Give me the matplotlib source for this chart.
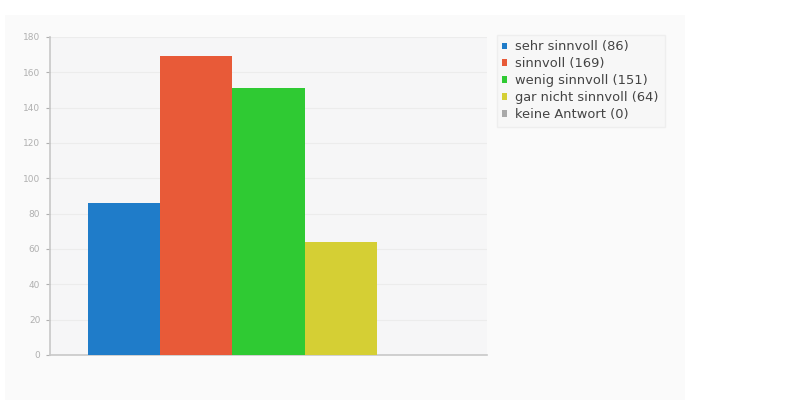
import matplotlib.pyplot as plt
from matplotlib.patches import Rectangle

categories = ['sehr sinnvoll', 'sinnvoll', 'wenig sinnvoll', 'gar nicht sinnvoll', 'keine Antwort']
counts = [86, 169, 151, 64, 0]
colors = ['#1f7cc9', '#e85a38', '#2fca33', '#d5cf34', '#a9a9a9']
y_ticks = list(range(0, 181, 20))

fig = plt.figure(figsize=(8.10, 4.05), dpi=100)
fig.patch.set_facecolor('white')

# light panel behind chart and legend
fig.patches.append(Rectangle((5 / 810, 5 / 405), 680 / 810, 385 / 405,
                             transform=fig.transFigure, facecolor='#fafafa',
                             edgecolor='none', zorder=-10))

ax = fig.add_axes([50 / 810, 50 / 405, 437 / 810, 318 / 405])
ax.set_facecolor('#f6f6f7')

x = list(range(len(counts)))
bars = ax.bar(x, counts, width=1.0, color=colors, linewidth=0, zorder=3)

ax.set_xlim(-1.03, 5.03)
ax.set_ylim(0, 180)
ax.set_yticks(y_ticks)
ax.set_xticks([])
ax.tick_params(axis='y', labelsize=6.5, colors='#b0b0b0', length=3, width=0.8, pad=4)
ax.yaxis.grid(True, color='#ececec', linewidth=0.8, zorder=0)

for side in ('top', 'right'):
    ax.spines[side].set_visible(False)
for side in ('left', 'bottom'):
    ax.spines[side].set_color('#c8c8c8')
    ax.spines[side].set_linewidth(1.2)

labels = ['{} ({})'.format(c, v) for c, v in zip(categories, counts)]
leg = fig.legend(bars, labels, loc='upper left', bbox_to_anchor=(490 / 810, 1 - 28 / 405),
                 fontsize=9.4, frameon=True, handlelength=0.38, handleheight=0.38,
                 handletextpad=0.6, labelspacing=0.3, borderpad=0.45, fancybox=False)
leg.get_frame().set_edgecolor('#ececec')
leg.get_frame().set_facecolor('#f7f7f7')
for t in leg.get_texts():
    t.set_color('#444444')

fig.savefig('out.png', dpi=100)
